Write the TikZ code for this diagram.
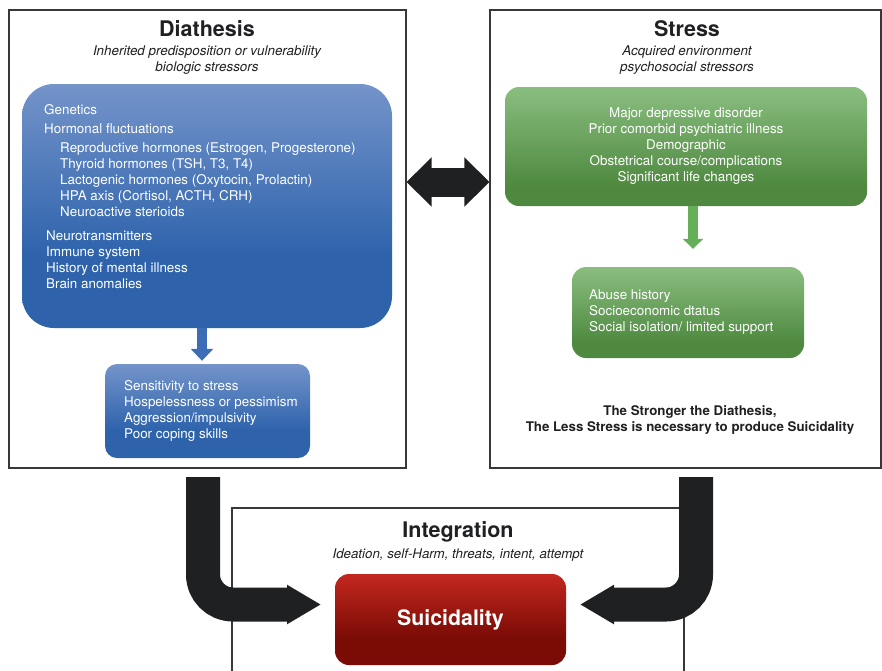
\documentclass[tikz,border=0pt]{standalone}
\usepackage{fontspec}
\setmainfont{TeX Gyre Heros}
\usetikzlibrary{arrows.meta}
\tikzset{>=stealth}
\definecolor{blueT}{HTML}{7494CA}
\definecolor{blueB}{HTML}{2E63AC}
\definecolor{greenT}{HTML}{8ABE80}
\definecolor{greenB}{HTML}{4E893F}
\definecolor{redT}{HTML}{C3281F}
\definecolor{redB}{HTML}{7A0B05}
\definecolor{blueA}{HTML}{3C6DB6}
\definecolor{greenA}{HTML}{64AF57}
\definecolor{ink}{HTML}{1F2022}
\pgfdeclareverticalshading{blueshade}{100bp}{color(0bp)=(blueB); color(25bp)=(blueB); color(40bp)=(blueB); color(75bp)=(blueT); color(100bp)=(blueT)}
\pgfdeclareverticalshading{greenshade}{100bp}{color(0bp)=(greenB); color(25bp)=(greenB); color(33bp)=(greenB); color(75bp)=(greenT); color(100bp)=(greenT)}
\pgfdeclareverticalshading{redshade}{100bp}{color(0bp)=(redB); color(25bp)=(redB); color(40bp)=(redB); color(75bp)=(redT); color(100bp)=(redT)}

\begin{document}
\begin{tikzpicture}[x=1pt, y=-1pt,
    frame/.style={draw=black!78, line width=1.2pt},
    ttl/.style={font=\fontsize{21.5}{24}\selectfont\bfseries, text=ink},
    sub/.style={font=\fontsize{13.4}{16}\selectfont\itshape, align=center, text=ink},
    txt/.style={font=\fontsize{13.4}{16}\selectfont, text=white, inner sep=0pt},
    bluebox/.style={shading=blueshade, rounded corners=12pt},
    greenbox/.style={shading=greenshade, rounded corners=14pt},
    bigarrow/.style={draw=ink, line width=34pt, rounded corners=30pt, -{Triangle[length=34pt,width=37pt]}}]
    \useasboundingbox (0,0) rectangle (882,670);
    \node[frame, minimum width=397pt, minimum height=458pt] (diathesis) at (207.5,239) {};
    \node[frame, minimum width=391pt, minimum height=458pt] (stress) at (685.5,239) {};
    \node[frame, minimum width=452pt, minimum height=180pt] (integration) at (458,598) {};
    \node[ttl] (diatitle) at (207,29) {Diathesis};
    \node[sub] (diasub) at (207,60) {Inherited predisposition or vulnerability\\biologic stressors};
    \node[ttl] (strtitle) at (687,29) {Stress};
    \node[sub] (strsub) at (687,60) {Acquired environment\\psychosocial stressors};
    \node[ttl] (inttitle) at (458,532) {Integration};
    \node[sub, font=\fontsize{13.3}{14}\selectfont\itshape] (intsub) at (458,555) {Ideation, self-Harm, threats, intent, attempt};
    \node[bluebox, rounded corners=32pt, minimum width=370pt, minimum height=244pt] (biology) at (207,206) {};
    \node[txt, anchor=west, align=left, font=\fontsize{13.4}{19}\selectfont] (biotxta) at (44,119.5) {Genetics\\Hormonal fluctuations};
    \node[txt, anchor=west, align=left] (biotxtb) at (60,180) {Reproductive hormones (Estrogen, Progesterone)\\Thyroid hormones (TSH, T3, T4)\\Lactogenic hormones (Oxytocin, Prolactin)\\HPA axis (Cortisol, ACTH, CRH)\\Neuroactive sterioids};
    \node[txt, anchor=west, align=left] (biotxtc) at (46,260) {Neurotransmitters\\Immune system\\History of mental illness\\Brain anomalies};
    \node[bluebox, minimum width=205pt, minimum height=94pt] (coping) at (207.5,411) {};
    \node[txt, anchor=west, align=left] (copingtxt) at (124,411) {Sensitivity to stress\\Hospelessness or pessimism\\Aggression/impulsivity\\Poor coping skills};
    \node[greenbox, minimum width=362pt, minimum height=119pt, txt, align=center] (clinical) at (686,146.5) {Major depressive disorder\\Prior comorbid psychiatric illness\\Demographic\\Obstetrical course/complications\\Significant life changes};
    \node[greenbox, minimum width=232pt, minimum height=91pt] (social) at (688,312.5) {};
    \node[txt, anchor=west, align=left] (socialtxt) at (589,312) {Abuse history\\Socioeconomic dtatus\\Social isolation/ limited support};
    \node[font=\fontsize{13.3}{16}\selectfont\bfseries, align=center, text=ink] (thesis) at (690,420) {The Stronger the Diathesis,\\The Less Stress is necessary to produce Suicidality};
    \node[shading=redshade, rounded corners=14pt, minimum width=231pt, minimum height=91pt, text=white, font=\fontsize{21.3}{24}\selectfont\bfseries] (outcome) at (450.5,619.5) {Suicidality};
    \draw[blueA, line width=10pt, shorten >=3pt, -{Triangle[length=12pt,width=22pt]}] ([xshift=-5pt]biology.south) -- ([xshift=-5pt]biology.south |- coping.north);
    \draw[greenA, line width=10pt, shorten >=18pt, -{Triangle[length=10pt,width=20pt]}] ([xshift=7pt]clinical.south) -- ([xshift=7pt]clinical.south |- social.north);
    \draw[ink, line width=29pt, {Triangle[length=25pt,width=48pt]}-{Triangle[length=25pt,width=48pt]}] (diathesis.east |- 0,182) -- (stress.west |- 0,182);
    \coordinate (lstart) at (203,477);
    \coordinate (ltip) at (321,604.5);
    \coordinate (rstart) at (696,477);
    \coordinate (rtip) at (580,604.5);
    \draw[bigarrow] (lstart) |- (ltip);
    \draw[bigarrow] (rstart) |- (rtip);
\end{tikzpicture}
\end{document}
